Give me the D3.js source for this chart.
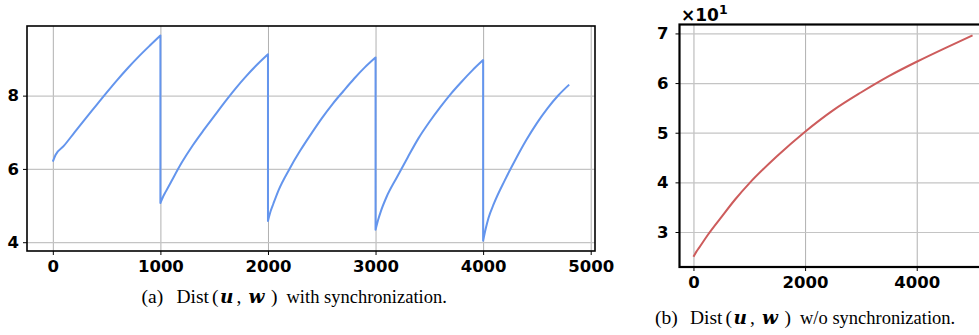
<!DOCTYPE html>
<html>
<head>
<meta charset="utf-8">
<script src="https://cdn.jsdelivr.net/npm/d3@7"></script>
<style>
  html, body { margin: 0; padding: 0; background: #fff; }
  svg { display: block; }
  .tick text { font-family: "DejaVu Sans", sans-serif; font-weight: bold; font-size: 16.5px; fill: #000; }
  .caption { font-family: "Liberation Serif", "Times New Roman", serif; font-size: 19.5px; fill: #000; }
  .caption.rest { font-size: 18.5px; }
  .caption.vec { font-family: "DejaVu Serif", serif; font-weight: bold; font-style: italic; font-size: 18.5px; }
</style>
</head>
<body>
<svg id="chart" width="979" height="335"></svg>
<script>
// ── Data ───────────────────────────────────────────────────
// (a) with synchronization: distance resets every 1000 steps
const syncSteps = [
  0, 25, 100, 200, 300, 400, 500, 600, 700, 800, 900, 1000,
  1000, 1025, 1050, 1100, 1200, 1300, 1400, 1500, 1600, 1700, 1800, 1900, 2000,
  2000, 2025, 2050, 2100, 2200, 2300, 2400, 2500, 2600, 2700, 2800, 2900, 3000,
  3000, 3025, 3050, 3100, 3200, 3300, 3400, 3500, 3600, 3700, 3800, 3900, 4000,
  4000, 4025, 4050, 4100, 4200, 4300, 4400, 4500, 4600, 4700, 4800
];
const syncDist = [
  6.20, 6.38, 6.62, 6.99, 7.36, 7.72, 8.08, 8.43, 8.76, 9.07, 9.36, 9.64,
  5.07, 5.24, 5.38, 5.65, 6.18, 6.64, 7.05, 7.44, 7.83, 8.20, 8.54, 8.85, 9.13,
  4.58, 4.85, 5.05, 5.43, 6.00, 6.50, 6.95, 7.38, 7.77, 8.12, 8.46, 8.77, 9.04,
  4.34, 4.62, 4.85, 5.22, 5.78, 6.32, 6.84, 7.28, 7.68, 8.05, 8.38, 8.69, 8.97,
  4.04, 4.38, 4.66, 5.05, 5.68, 6.25, 6.78, 7.25, 7.66, 8.01, 8.30
];
const syncXTicks = [0, 1000, 2000, 3000, 4000, 5000];
const syncYTicks = [4, 6, 8];

// (b) without synchronization: distance keeps growing
const noSyncSteps = [0, 50, 100, 250, 500, 750, 1000, 1500, 2000, 2500, 3000, 3500, 4000, 4500, 5000];
const noSyncDist  = [25.0, 26.0, 26.8, 29.3, 33.0, 36.6, 39.8, 45.3, 50.2, 54.5, 58.1, 61.4, 64.3, 67.0, 69.6];
const noSyncXTicks = [0, 2000, 4000];
const noSyncYTicks = [30, 40, 50, 60, 70];

const svg = d3.select('#chart');

// ── Panel helper ───────────────────────────────────────────
function drawPanel(opts) {
  const { left, top, width, height, xDomain, yDomain, xTicks, yTicks,
          xs, ys, color, spineW, yFmt, yPad } = opts;

  const g = svg.append('g').attr('transform', `translate(${left},${top})`);

  const x = d3.scaleLinear().domain(xDomain).range([0, width]);
  const y = d3.scaleLinear().domain(yDomain).range([height, 0]);

  // grid
  g.append('g')
    .attr('transform', `translate(0,${height})`)
    .call(d3.axisBottom(x).tickValues(xTicks).tickSize(-height).tickFormat(''))
    .call(a => a.select('.domain').remove())
    .call(a => a.selectAll('line').attr('stroke', '#b0b0b0').attr('stroke-width', 1));
  g.append('g')
    .call(d3.axisLeft(y).tickValues(yTicks).tickSize(-width).tickFormat(''))
    .call(a => a.select('.domain').remove())
    .call(a => a.selectAll('line').attr('stroke', '#c4c4c4').attr('stroke-width', 1.2));

  // series: split where x repeats (the sync resets), smooth each piece,
  // then join the pieces so the reset shows as a vertical drop
  const pts = xs.map((v, i) => [v, ys[i]]);
  const pieces = [];
  pts.forEach((p, i) => {
    if (i === 0 || p[0] <= pts[i - 1][0]) pieces.push([]);
    pieces[pieces.length - 1].push(p);
  });
  const line = d3.line()
    .x(d => x(d[0]))
    .y(d => y(d[1]))
    .curve(d3.curveMonotoneX);
  const d = pieces.map((pc, k) => {
    const s = line(pc);
    return k === 0 ? s : 'L' + s.slice(1);
  }).join('');
  g.append('path')
    .attr('fill', 'none')
    .attr('stroke', color)
    .attr('stroke-width', 2)
    .attr('stroke-linejoin', 'round')
    .attr('d', d);

  // axes with outward ticks
  g.append('g')
    .attr('transform', `translate(0,${height})`)
    .call(d3.axisBottom(x).tickValues(xTicks).tickSize(4).tickPadding(5).tickFormat(d3.format('d')))
    .call(a => a.select('.domain').remove())
    .call(a => a.selectAll('line').attr('stroke', '#000'));
  g.append('g')
    .call(d3.axisLeft(y).tickValues(yTicks).tickSize(4).tickPadding(yPad).tickFormat(yFmt))
    .call(a => a.select('.domain').remove())
    .call(a => a.selectAll('line').attr('stroke', '#000'));

  // frame
  g.append('rect')
    .attr('width', width).attr('height', height)
    .attr('fill', 'none').attr('stroke', '#000').attr('stroke-width', spineW);

  return g;
}

// (a)
drawPanel({
  left: 27, top: 26, width: 568, height: 225,
  xDomain: [-240, 5040], yDomain: [3.76, 9.9],
  xTicks: syncXTicks, yTicks: syncYTicks,
  xs: syncSteps, ys: syncDist, color: '#6495ED',
  spineW: 1.6, yFmt: d3.format('d'), yPad: 4
});

// (b) — runs past the right edge of the page, as in the reference
drawPanel({
  left: 679.5, top: 24.5, width: 307, height: 242.5,
  xDomain: [-250, 5250], yDomain: [22.95, 71.8],
  xTicks: noSyncXTicks, yTicks: noSyncYTicks,
  xs: noSyncSteps, ys: noSyncDist, color: '#CD5C5C',
  spineW: 2.2, yFmt: d => d / 10, yPad: 7
});

// offset label ×10¹
const off = svg.append('text')
  .attr('x', 681).attr('y', 20.5)
  .attr('font-family', '"DejaVu Sans", sans-serif')
  .attr('font-weight', 'bold').attr('font-size', 17);
off.append('tspan').text('\u00d710');
off.append('tspan').attr('font-size', 12.5).attr('dy', -7).text('1');

// ── Captions ───────────────────────────────────────────────
// pieces placed at offsets from the caption's left edge (LaTeX math spacing)
function caption(x0, y0, label, rest) {
  const t = (dx, s) => svg.append('text').attr('class', 'caption')
    .attr('x', x0 + dx).attr('y', y0).text(s);
  t(0, label);
  t(35, 'Dist');
  t(70.5, '(');
  t(78.5, 'u').classed('vec', true);
  t(95, ',');
  t(107, 'w').classed('vec', true);
  t(129.5, ')');
  t(145, rest).classed('rest', true);
}
caption(141.5, 303, '(a)', 'with synchronization.');
caption(655, 323.5, '(b)', 'w/o synchronization.');
</script>
</body>
</html>
